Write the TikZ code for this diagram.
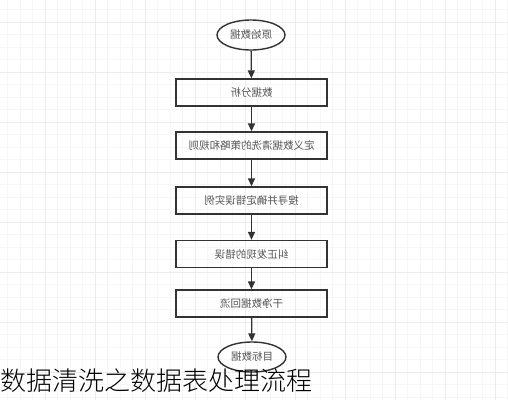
\documentclass[tikz,border=0pt]{standalone}
\usepackage{graphicx}
\usepackage{fontspec}
\newfontfamily\cjk{Noto Sans CJK SC}
\newfontfamily\cjkduenn{Noto Sans CJK SC}[UprightFont={* Light}]
\usetikzlibrary{calc,arrows.meta,shapes.geometric}
\definecolor{rand}{HTML}{333333}
\definecolor{textgrau}{HTML}{555555}
\newcommand{\spiegel}[1]{\reflectbox{#1}}

\begin{document}
\begin{tikzpicture}[x=1pt, y=-1pt,
    every node/.style={font=\cjk\fontsize{10.5}{12}\selectfont, text=textgrau},
    schritt/.style={draw=rand, line width=1.3pt, minimum width=151pt, minimum height=27pt, inner sep=0pt},
    oval/.style={ellipse, draw=rand, line width=1.4pt, minimum width=68pt, minimum height=30pt, inner sep=0pt},
    pfeil/.style={-{Triangle[length=8pt,width=7pt]}, rand, line width=1.3pt}]
  \useasboundingbox (0,0) rectangle (508,400);
  \fill[white] (0,0) rectangle (508,400);

  %--- Raster im Hintergrund
  \foreach \gx in {7.5,20,...,508} \draw[gray!7, line width=0.8pt] (\gx,0) -- (\gx,400);
  \foreach \gy in {9.5,22,...,400} \draw[gray!7, line width=0.8pt] (0,\gy) -- (508,\gy);
  \foreach \gx in {45,95,...,508} \draw[gray!15, line width=1pt] (\gx,0) -- (\gx,400);
  \foreach \gy in {22,72,...,400} \draw[gray!15, line width=1pt] (0,\gy) -- (508,\gy);

  %--- Ablauf (Texte gespiegelt wie im Bild)
  \node[oval]    (S0) at (251,35)    {\spiegel{原始数据}};
  \node[schritt] (S1) at (251.5,92.5) {\spiegel{数据分析}};
  \node[schritt] (S2) at (251.5,145.5) {\spiegel{定义数据清洗的策略和规则}};
  \node[schritt] (S3) at (251.5,200.5) {\spiegel{搜寻并确定错误实例}};
  \node[schritt] (S4) at (251.5,254) {\spiegel{纠正发现的错误}};
  \node[schritt] (S5) at (251.5,303.5) {\spiegel{干净数据回流}};
  \node[oval]    (E)  at (252,357)   {\spiegel{目标数据}};

  % Pfeile
  \draw[pfeil] (S0) -- (S1);
  \draw[pfeil] (S1) -- (S2);
  \draw[pfeil] (S2) -- (S3);
  \draw[pfeil] (S3) -- (S4);
  \draw[pfeil] (S4) -- (S5);
  \draw[pfeil] (S5) -- (E);

  %--- Titel unten links
  \node[anchor=west, inner sep=0pt, text=black, font=\cjkduenn\fontsize{26}{30}\selectfont] (titel) at (0,381) {数据清洗之数据表处理流程};
\end{tikzpicture}
\end{document}
